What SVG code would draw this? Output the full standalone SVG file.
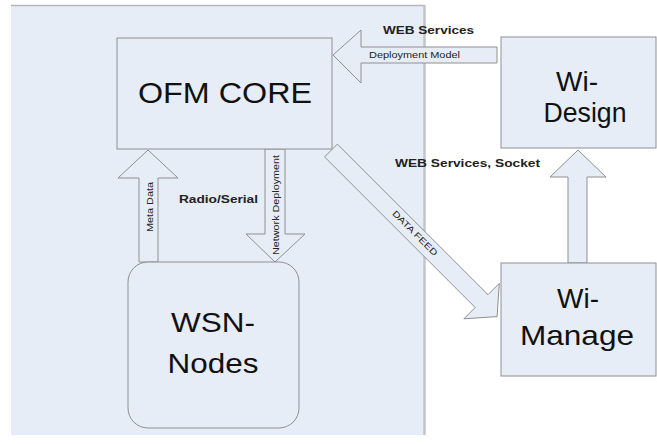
<svg xmlns="http://www.w3.org/2000/svg" width="657" height="444" viewBox="0 0 657 444">
  <style>
    .shape { fill: #e7edf7; stroke: #8f8f8f; stroke-width: 1; }
    .big { font-family: "Liberation Sans", Arial, sans-serif; fill: #111; text-anchor: middle; }
    .lbl { font-family: "Liberation Sans", Arial, sans-serif; font-weight: bold; font-size: 11.5px; fill: #222; }
    .small { font-family: "Liberation Sans", Arial, sans-serif; font-size: 8.5px; fill: #222; }
  </style>

  <rect width="657" height="444" fill="#ffffff"/>

  <!-- shaded server-side panel -->
  <g id="panel">
    <rect x="11" y="5" width="413" height="430" fill="#e7edf7"/>
    <line x1="11" y1="5.5" x2="425" y2="5.5" stroke="#b4b6ba" stroke-width="1.5"/>
    <line x1="424.5" y1="5" x2="424.5" y2="435" stroke="#c2c5cb" stroke-width="2.5"/>
  </g>

  <!-- block-arrow connectors -->
  <g id="connectors">
    <g id="deployment-model">
      <polygon class="shape" points="333,55 361,30 361,47 497,47 497,63 361,63 361,83"/>
      <text class="small" x="369" y="58" textLength="91" lengthAdjust="spacingAndGlyphs">Deployment Model</text>
    </g>
    <g id="meta-data">
      <polygon class="shape" points="148,150 178,178 158,178 158,262 139,262 139,178 118,178"/>
      <text class="small" transform="translate(153,207) rotate(-90)" text-anchor="middle" textLength="50" lengthAdjust="spacingAndGlyphs">Meta Data</text>
    </g>
    <g id="network-deployment">
      <polygon class="shape" points="265,149 285,149 285,234 305,234 275,262 246,234 265,234"/>
      <text class="small" transform="translate(279,205) rotate(-90)" text-anchor="middle" textLength="100" lengthAdjust="spacingAndGlyphs">Network Deployment</text>
    </g>
    <g id="data-feed">
      <polygon class="shape" points="337.4,144.1 488,294.7 499.3,283.4 497.1,316.6 463.9,318.8 475.2,307.5 324.6,156.9"/>
      <text class="small" transform="translate(415,233) rotate(45)" y="3" text-anchor="middle" textLength="60" lengthAdjust="spacingAndGlyphs">DATA FEED</text>
    </g>
    <g id="manage-to-design">
      <polygon class="shape" points="578,150 606,177 587,177 587,263 568,263 568,177 550,177"/>
    </g>
    <text class="lbl" x="383" y="34" textLength="91" lengthAdjust="spacingAndGlyphs">WEB Services</text>
    <text class="lbl" x="395" y="167" textLength="145" lengthAdjust="spacingAndGlyphs">WEB Services, Socket</text>
    <text class="lbl" x="179" y="203" textLength="79" lengthAdjust="spacingAndGlyphs">Radio/Serial</text>
  </g>

  <!-- nodes -->
  <g id="ofm-core">
    <rect class="shape" x="117" y="38" width="215" height="111"/>
    <text class="big" x="225" y="103" font-size="29" textLength="174" lengthAdjust="spacingAndGlyphs">OFM CORE</text>
  </g>

  <g id="wsn-nodes">
    <rect class="shape" x="128" y="262" width="171" height="166" rx="20" ry="20"/>
    <text class="big" x="213" y="332" font-size="28" textLength="84" lengthAdjust="spacingAndGlyphs">WSN-</text>
    <text class="big" x="213" y="373" font-size="28" textLength="91" lengthAdjust="spacingAndGlyphs">Nodes</text>
  </g>

  <g id="wi-design">
    <rect class="shape" x="501" y="37" width="155" height="111"/>
    <text class="big" x="577" y="91" font-size="28">Wi-</text>
    <text class="big" x="585" y="122" font-size="28" textLength="83" lengthAdjust="spacingAndGlyphs">Design</text>
  </g>

  <g id="wi-manage">
    <rect class="shape" x="501" y="263" width="155" height="113"/>
    <text class="big" x="578" y="308" font-size="28">Wi-</text>
    <text class="big" x="577" y="345" font-size="28" textLength="114" lengthAdjust="spacingAndGlyphs">Manage</text>
  </g>
</svg>
